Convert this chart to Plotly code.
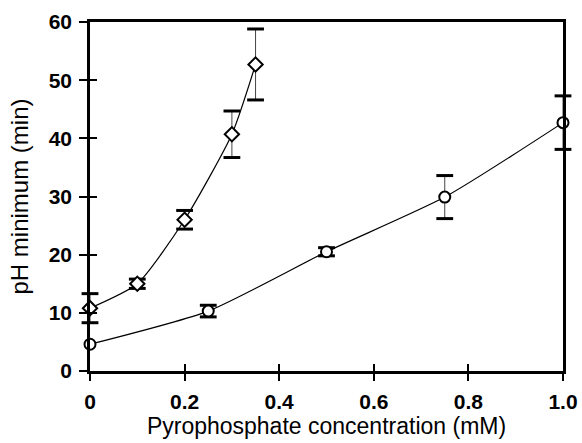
import plotly.graph_objects as go

# Diamond series
x_d = [0, 0.1, 0.2, 0.3, 0.35]
y_d = [10.8, 15.0, 26.0, 40.7, 52.7]
e_d = [2.5, 0.8, 1.6, 4.0, 6.1]

# Circle series
x_c = [0, 0.25, 0.5, 0.75, 1.0]
y_c = [4.6, 10.3, 20.5, 29.9, 42.7]
e_c = [0.0, 1.0, 0.7, 3.7, 4.6]

xticks = [0, 0.2, 0.4, 0.6, 0.8, 1.0]
xticktext = ["<b>0</b>", "<b>0.2</b>", "<b>0.4</b>", "<b>0.6</b>", "<b>0.8</b>", "<b>1.0</b>"]
yticks = [0, 10, 20, 30, 40, 50, 60]
yticktext = ["<b>0</b>", "<b>10</b>", "<b>20</b>", "<b>30</b>", "<b>40</b>", "<b>50</b>", "<b>60</b>"]

FAM = "Liberation Sans, Arial, sans-serif"

fig = go.Figure()

def add_series(x, y, e, symbol, size):
    # thin error stems
    fig.add_trace(go.Scatter(
        x=x, y=y, mode="markers",
        marker=dict(size=1, color="rgba(0,0,0,0)"),
        error_y=dict(type="data", array=e, visible=True, color="#444",
                     thickness=1, width=0),
        cliponaxis=False, showlegend=False, hoverinfo="skip",
    ))
    # thick caps
    cap_x = [xi for xi, ei in zip(x, e) if ei > 0] * 2
    cap_y = [yi + ei for yi, ei in zip(y, e) if ei > 0] + \
            [yi - ei for yi, ei in zip(y, e) if ei > 0]
    fig.add_trace(go.Scatter(
        x=cap_x, y=cap_y, mode="markers",
        marker=dict(symbol="line-ew", size=12, color="black",
                    line=dict(color="black", width=3)),
        cliponaxis=False, showlegend=False, hoverinfo="skip",
    ))
    # line + markers
    fig.add_trace(go.Scatter(
        x=x, y=y, mode="lines+markers",
        line=dict(color="black", width=1.2, shape="spline", smoothing=0.6),
        marker=dict(symbol=symbol, size=size, color="white",
                    line=dict(color="black", width=2)),
        cliponaxis=False, showlegend=False,
    ))

add_series(x_c, y_c, e_c, "circle", 11)
add_series(x_d, y_d, e_d, "diamond", 11)

fig.update_layout(
    width=582, height=443,
    margin=dict(l=90, r=19, t=22, b=72, autoexpand=False),
    paper_bgcolor="white", plot_bgcolor="white",
    font=dict(family=FAM, color="black"),
    xaxis=dict(range=[0, 1], tickvals=xticks, ticktext=xticktext,
               ticks="outside", ticklen=7, tickwidth=2, tickcolor="black",
               ticklabelstandoff=3, automargin=False,
               showline=True, linecolor="black", linewidth=2.5, mirror=True,
               showgrid=False, zeroline=False,
               tickfont=dict(size=21, family=FAM, color="black"),
               title=dict(text="Pyrophosphate concentration (mM)",
                          font=dict(size=23, family=FAM, color="black"),
                          standoff=6)),
    yaxis=dict(range=[0, 60], tickvals=yticks, ticktext=yticktext,
               ticks="outside", ticklen=8, tickwidth=2, tickcolor="black",
               ticklabelstandoff=3, automargin=False,
               showline=True, linecolor="black", linewidth=2.5, mirror=True,
               showgrid=False, zeroline=False,
               tickfont=dict(size=21, family=FAM, color="black"),
               title=dict(text="pH minimum (min)",
                          font=dict(size=24, family=FAM, color="black"),
                          standoff=14)),
    xaxis2=dict(overlaying="x", range=[0, 1], tickvals=xticks, ticks="inside",
                ticklen=7, tickwidth=2, tickcolor="black", showticklabels=False,
                showgrid=False, zeroline=False, side="bottom", anchor="y"),
    yaxis2=dict(overlaying="y", range=[0, 60], tickvals=yticks, ticks="inside",
                ticklen=7, tickwidth=2, tickcolor="black", showticklabels=False,
                showgrid=False, zeroline=False, side="left", anchor="x"),
)

# invisible trace to activate the secondary axes
fig.add_trace(go.Scatter(x=[0], y=[0], xaxis="x2", yaxis="y2", mode="markers",
                         marker=dict(opacity=0), showlegend=False, hoverinfo="skip"))

fig.write_html("out.html")
